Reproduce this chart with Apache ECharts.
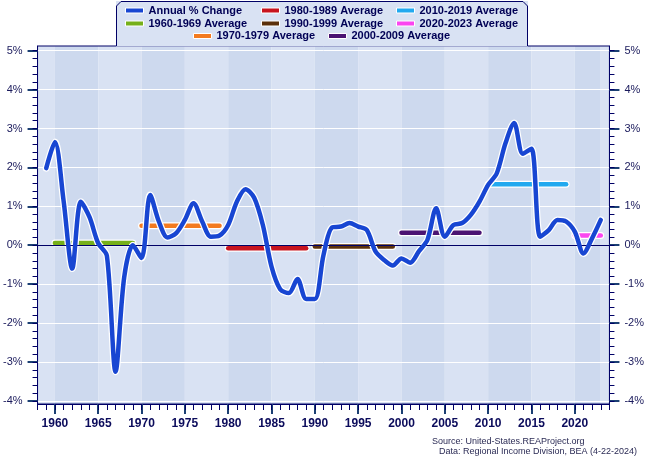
<!DOCTYPE html>
<html>
<head>
<meta charset="utf-8">
<script src="https://cdn.jsdelivr.net/npm/echarts@6/dist/echarts.min.js"></script>
<style>
  html, body { margin: 0; padding: 0; background: #fff; }
  #chart { width: 647px; height: 459px; }
</style>
</head>
<body>
<div id="chart"></div>
<script>
// yearly values (percent)
const years = [
  1959, 1960, 1961, 1962, 1963, 1964, 1965, 1966, 1967, 1968, 1969,
  1970, 1971, 1972, 1973, 1974, 1975, 1976, 1977, 1978, 1979,
  1980, 1981, 1982, 1983, 1984, 1985, 1986, 1987, 1988, 1989,
  1990, 1991, 1992, 1993, 1994, 1995, 1996, 1997, 1998, 1999,
  2000, 2001, 2002, 2003, 2004, 2005, 2006, 2007, 2008, 2009,
  2010, 2011, 2012, 2013, 2014, 2015, 2016, 2017, 2018, 2019,
  2020, 2021, 2022, 2023
];
const pctChange = [
  1.98, 2.65, 1.15, -0.60, 1.12, 0.72, 0.05, -0.27, -3.25, -0.82, 0.00,
  -0.33, 1.29, 0.61, 0.20, 0.31, 0.65, 1.08, 0.61, 0.22, 0.25,
  0.52, 1.12, 1.44, 1.22, 0.52, -0.55, -1.13, -1.23, -0.87, -1.38,
  -1.38, -0.25, 0.46, 0.48, 0.57, 0.48, 0.39, -0.16, -0.38, -0.52,
  -0.34, -0.45, -0.16, 0.14, 0.95, 0.22, 0.52, 0.57, 0.78, 1.12,
  1.55, 1.85, 2.62, 3.14, 2.35, 2.48, 0.22, 0.39, 0.65, 0.61,
  0.35, -0.21, 0.18, 0.65
];

// decade averages
const avgNames = ['1960-1969 Average', '1970-1979 Average', '1980-1989 Average', '1990-1999 Average',
                  '2000-2009 Average', '2010-2019 Average', '2020-2023 Average'];
const avgFrom = [1960, 1970, 1980, 1990, 2000, 2010, 2020];
const avgTo = [1969, 1979, 1989, 1999, 2009, 2019, 2023];
const avgValues = [0.06, 0.50, -0.08, -0.03, 0.32, 1.57, 0.25];

// axes
const xTicks = [1960, 1965, 1970, 1975, 1980, 1985, 1990, 1995, 2000, 2005, 2010, 2015, 2020];
const yTicks = [-4, -3, -2, -1, 0, 1, 2, 3, 4, 5];
const bandEdges = [1958, 1960, 1965, 1970, 1975, 1980, 1985, 1990, 1995, 2000, 2005, 2010, 2015, 2020, 2023, 2024];

// styles
const navy = '#000066';
const plotLight = '#d9e2f3';
const plotDark = '#cdd9ee';
const mainColor = '#1846d2';
const avgColors = ['#76b01a', '#f37a1f', '#c8141e', '#5b300b', '#4b1372', '#22a9ef', '#fb46f0'];

const yearTicks = [];
for (let y = 1958; y <= 2024; y++) yearTicks.push(y);
const yMinor = [];
for (let v = -40; v <= 50; v += 2) yMinor.push(v / 10);

const xMin = 1958, xMax = 2024, yMin = -4.08, yMax = 5.12;

const mainData = years.map((y, i) => [y, pctChange[i]]);

let series = [];
// zero line
series.push({
  name: 'zero', type: 'line', data: [], z: 1, silent: true,
  markLine: {
    silent: true, symbol: 'none', label: { show: false }, animation: false,
    lineStyle: { color: navy, width: 1, type: 'solid' },
    data: [{ yAxis: 0 }]
  }
});
avgNames.forEach((n, i) => {
  const d = [[avgFrom[i], avgValues[i]], [avgTo[i], avgValues[i]]];
  series.push({
    name: n + ' edge', type: 'line', data: d, symbol: 'none', z: 2, silent: true,
    lineStyle: { color: '#fff', width: 7, cap: 'round' }
  });
  series.push({
    name: n, type: 'line', data: d, symbol: 'none', z: 3, silent: true,
    itemStyle: { color: avgColors[i] },
    lineStyle: { color: avgColors[i], width: 4.5, cap: 'round' }
  });
});
series.push({
  name: 'main edge', type: 'line', data: mainData, smooth: 0.3, symbol: 'none', z: 4, silent: true,
  lineStyle: { color: '#fff', width: 7, cap: 'round', join: 'round' }
});
series.push({
  name: 'Annual % Change', type: 'line', data: mainData, smooth: 0.3, symbol: 'none', z: 5, silent: true,
  itemStyle: { color: mainColor },
  lineStyle: { color: mainColor, width: 4.5, cap: 'round', join: 'round' }
});

const legendSlots = [
  ['Annual % Change', 125, 5], ['1980-1989 Average', 261, 5], ['2010-2019 Average', 396, 5],
  ['1960-1969 Average', 125, 18], ['1990-1999 Average', 261, 18], ['2020-2023 Average', 396, 18],
  ['1970-1979 Average', 193, 30.5], ['2000-2009 Average', 328, 30.5]
];
const legends = legendSlots.map(s => ({
  data: [s[0]], left: s[1], top: s[2], padding: 0, icon: 'rect',
  itemWidth: 18, itemHeight: 5, selectedMode: false,
  itemStyle: { borderColor: '#fff', borderWidth: 1 },
  textStyle: { fontFamily: 'Liberation Sans', fontWeight: 'bold', fontSize: 11, color: '#000055' }
}));

const yLabel = { customValues: yTicks, formatter: '{value}%', margin: 15, color: '#1a1a5c',
                 fontSize: 11, fontFamily: 'Liberation Sans' };
const yMajorTick = { customValues: yTicks, length: 10, lineStyle: { color: '#1b3f73', width: 2 } };
const yMinorTick = { customValues: yMinor, length: 5, lineStyle: { color: navy, width: 1 } };

const chart = echarts.init(document.getElementById('chart'));
chart.setOption({
  animation: false,
  backgroundColor: '#fff',
  grid: { left: 34, right: 34, top: 46, bottom: 55, show: true, borderColor: navy, borderWidth: 1,
          backgroundColor: 'transparent' },
  legend: legends,
  xAxis: [
    { type: 'value', min: xMin, max: xMax, position: 'bottom',
      axisLine: { onZero: false, lineStyle: { color: navy, width: 1 } },
      axisTick: { customValues: xTicks, length: 10, lineStyle: { color: '#1b3f73', width: 2 } },
      axisLabel: { customValues: xTicks, margin: 14, color: '#0b0b5b', fontWeight: 'bold',
                   fontSize: 12, fontFamily: 'Liberation Sans', formatter: v => String(v) },
      splitLine: { show: false } },
    { type: 'value', min: xMin, max: xMax, position: 'bottom',
      axisLine: { show: false, onZero: false },
      axisTick: { customValues: yearTicks, length: 6, lineStyle: { color: navy, width: 1 } },
      axisLabel: { show: false }, splitLine: { show: false } },
    { type: 'value', min: xMin, max: xMax, position: 'bottom', z: -1,
      axisLine: { show: false, onZero: false },
      axisTick: { show: false, customValues: bandEdges },
      axisLabel: { show: false }, splitLine: { show: false },
      splitArea: { show: true, areaStyle: { color: [plotLight, plotDark] } } }
  ],
  yAxis: [
    { type: 'value', min: yMin, max: yMax, position: 'left',
      axisLine: { show: true, lineStyle: { color: navy } },
      axisTick: yMajorTick, axisLabel: yLabel,
      splitLine: { show: true, lineStyle: { color: '#fff', width: 1 } } },
    { type: 'value', min: yMin, max: yMax, position: 'right',
      axisLine: { show: true, lineStyle: { color: navy } },
      axisTick: yMajorTick, axisLabel: yLabel, splitLine: { show: false } },
    { type: 'value', min: yMin, max: yMax, position: 'left',
      axisLine: { show: false }, axisTick: yMinorTick, axisLabel: { show: false }, splitLine: { show: false } },
    { type: 'value', min: yMin, max: yMax, position: 'right',
      axisLine: { show: false }, axisTick: yMinorTick, axisLabel: { show: false }, splitLine: { show: false } }
  ],
  graphic: [
    { type: 'rect', z: 3, silent: true, shape: { x: 116, y: 1, width: 412, height: 45.5 },
      style: { fill: plotLight } },
    { type: 'polyline', z: 3, silent: true,
      shape: { points: [[116.5, 46], [116.5, 6], [121, 1.5], [523, 1.5], [527.5, 6], [527.5, 46]] },
      style: { stroke: navy, lineWidth: 1, fill: 'none' } },
    { type: 'text', x: 432, y: 437, silent: true,
      style: { text: 'Source: United-States.REAProject.org', fontSize: 9, fontFamily: 'Liberation Sans', fill: '#2b2b55' } },
    { type: 'text', x: 439, y: 447.5, silent: true,
      style: { text: 'Data: Regional Income Division, BEA (4-22-2024)', fontSize: 9, fontFamily: 'Liberation Sans', fill: '#2b2b55' } }
  ],
  series: series
});
</script>
</body>
</html>
